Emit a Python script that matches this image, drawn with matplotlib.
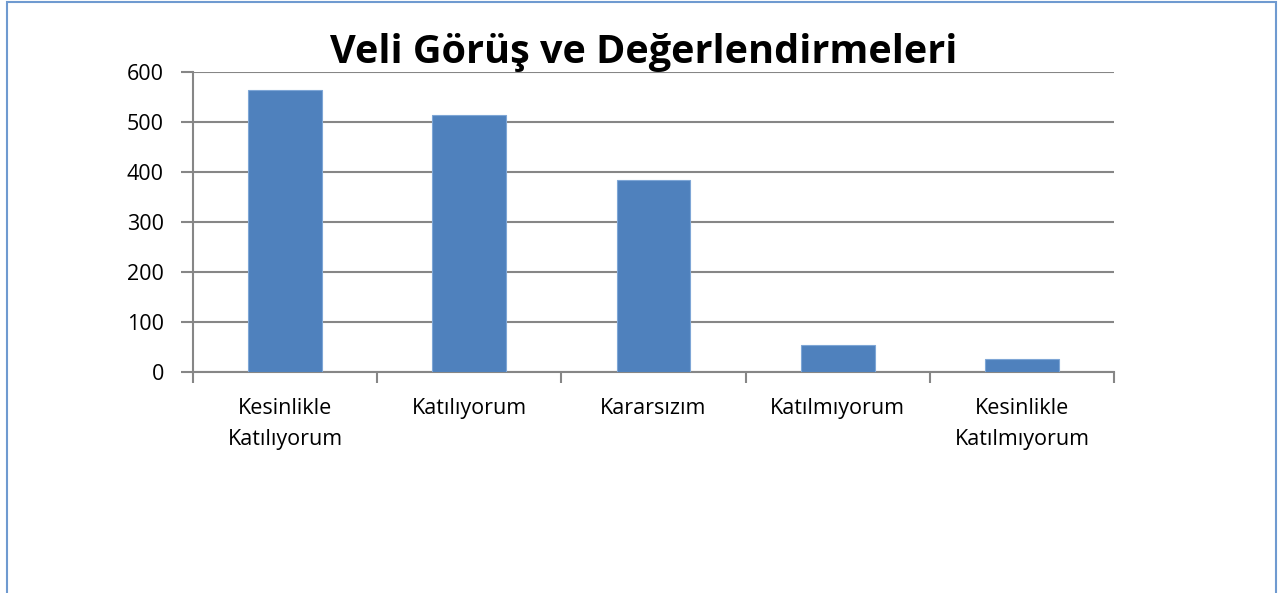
import matplotlib.pyplot as plt
from matplotlib.patches import Rectangle
import numpy as np

plt.rcParams['font.family'] = ['Open Sans', 'DejaVu Sans']

# chart data
categories = ['Kesinlikle\nKatılıyorum', 'Katılıyorum', 'Kararsızım',
              'Katılmıyorum', 'Kesinlikle\nKatılmıyorum']
values = [564, 514, 384, 55, 27]
yticks = [0, 100, 200, 300, 400, 500, 600]

W, H = 1278, 593
fig = plt.figure(figsize=(W / 100, H / 100), dpi=100)
ax = fig.add_axes([193 / W, 1 - 372 / H, (1114 - 193) / W, (372 - 72) / H])

x = np.arange(len(categories))
ax.bar(x, values, width=0.4, color='#4F81BD', edgecolor='#7EA6D6', linewidth=0.8, zorder=3)

ax.set_xlim(-0.5, len(categories) - 0.5)
ax.set_ylim(0, 600)
ax.set_yticks(yticks)
ax.set_yticklabels([str(v) for v in yticks], fontsize=15.5)
ax.yaxis.grid(True, color='#868686', linewidth=1.5, zorder=0)

# category labels between boundary ticks
ax.set_xticks(np.arange(len(categories) + 1) - 0.5)
ax.set_xticklabels([''] * (len(categories) + 1))
ax.set_xticks(x, minor=True)
ax.set_xticklabels(categories, minor=True, fontsize=15.5, linespacing=1.6)
ax.tick_params(axis='x', which='minor', length=0, pad=19)
ax.tick_params(axis='x', which='major', length=8, width=1.5, color='#868686')
ax.tick_params(axis='y', length=9, width=1.5, color='#868686', pad=12)

for s in ['top', 'right']:
    ax.spines[s].set_visible(False)
for s in ['left', 'bottom']:
    ax.spines[s].set_color('#868686')
    ax.spines[s].set_linewidth(1.5)

fig.text(644 / W, 1 - 53 / H, 'Veli Görüş ve Değerlendirmeleri', fontsize=28.5,
         fontweight='bold', ha='center', va='center')

# chart frame
fig.patches.append(Rectangle((7 / W, -0.05), (1276 - 7) / W, 1.05 - 2 / H,
                             transform=fig.transFigure, fill=False,
                             edgecolor='#6F9AD0', linewidth=1.5))

fig.savefig('out.png', dpi=100)
